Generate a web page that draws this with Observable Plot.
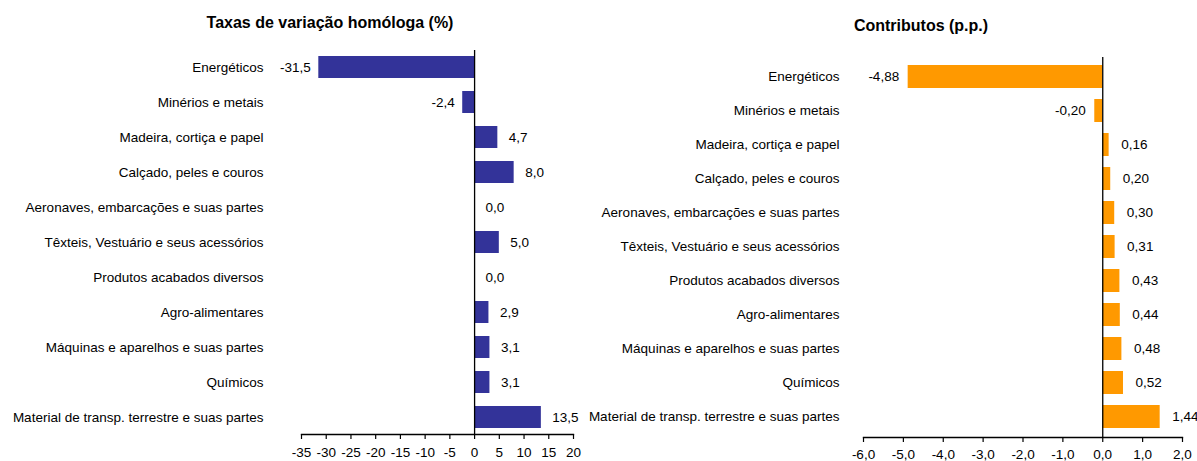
<!DOCTYPE html>
<html>
<head>
<meta charset="utf-8">
<script src="https://cdn.jsdelivr.net/npm/d3@7"></script>
<script src="https://cdn.jsdelivr.net/npm/@observablehq/plot@0.6"></script>
<style>
  html, body { margin: 0; padding: 0; background: #fff; }
  #wrap { position: relative; width: 1197px; height: 461px; overflow: hidden; font-family: "Liberation Sans", Arial, sans-serif; }
  #charts { display: flex; position: absolute; left: 0; top: 0; }
  .title { position: absolute; font-weight: bold; font-size: 16px; color: #000; transform: translateX(-50%); white-space: nowrap; line-height: 1; }
</style>
</head>
<body>
<div id="wrap">
  <div id="charts"></div>
  <div class="title" id="t1" style="left:330px; top:15px;">Taxas de variação homóloga (%)</div>
  <div class="title" id="t2" style="left:921px; top:18px;">Contributos (p.p.)</div>
</div>
<script>
const categories = [
  "Energéticos",
  "Minérios e metais",
  "Madeira, cortiça e papel",
  "Calçado, peles e couros",
  "Aeronaves, embarcações e suas partes",
  "Têxteis, Vestuário e seus acessórios",
  "Produtos acabados diversos",
  "Agro-alimentares",
  "Máquinas e aparelhos e suas partes",
  "Químicos",
  "Material de transp. terrestre e suas partes"
];
const taxas = [-31.5, -2.4, 4.7, 8.0, 0.0, 5.0, 0.0, 2.9, 3.1, 3.1, 13.5];
const contributos = [-4.88, -0.20, 0.16, 0.20, 0.30, 0.31, 0.43, 0.44, 0.48, 0.52, 1.44];
const ticksLeft = [-35, -30, -25, -20, -15, -10, -5, 0, 5, 10, 15, 20];
const ticksRight = [-6, -5, -4, -3, -2, -1, 0, 1, 2];

const leftData = categories.map((c, i) => ({cat: c, v: taxas[i]}));
const rightData = categories.map((c, i) => ({cat: c, v: contributos[i]}));

const fontStyle = {fontFamily: "'Liberation Sans', Arial, sans-serif", fontSize: "13.5px", color: "#000", background: "transparent", overflow: "visible"};

function panel({data, width, marginLeft, marginRight, marginTop, marginBottom, domain, ticks, tickFmt, valFmt, color, padInner, padOuter, yPad, xPad, posDx, negDx}) {
  return Plot.plot({
    width, height: 461,
    marginLeft, marginRight, marginTop, marginBottom,
    style: fontStyle,
    x: {domain, ticks, tickFormat: tickFmt, label: null},
    y: {domain: categories, label: null, paddingInner: padInner, paddingOuter: padOuter},
    marks: [
      Plot.barX(data, {x: "v", y: "cat", fill: color}),
      Plot.ruleX([0], {stroke: "#000", strokeWidth: 1.3}),
      Plot.frame({anchor: "bottom", stroke: "#000", strokeWidth: 1.3}),
      Plot.axisX({ticks, tickFormat: tickFmt, tickSize: 5, tickPadding: xPad, stroke: "#000", strokeWidth: 1.2, fill: "#000", label: null}),
      Plot.axisY({tickSize: 0, tickPadding: yPad, fill: "#000", label: null}),
      Plot.text(data.filter(d => d.v >= 0), {x: "v", y: "cat", text: d => valFmt(d.v), textAnchor: "start", dx: posDx, fill: "#000"}),
      Plot.text(data.filter(d => d.v < 0), {x: "v", y: "cat", text: d => valFmt(d.v), textAnchor: "end", dx: negDx, fill: "#000"})
    ]
  });
}

const left = panel({
  data: leftData, width: 598, marginLeft: 301, marginRight: 25, marginTop: 50, marginBottom: 27,
  domain: [-35, 20], ticks: ticksLeft, tickFmt: d => String(d),
  valFmt: v => v.toFixed(1).replace(".", ","), color: "#333399",
  padInner: 0.37, padOuter: 0.16, yPad: 38, xPad: 8, posDx: 11, negDx: -8
});
const right = panel({
  data: rightData, width: 599, marginLeft: 265, marginRight: 15, marginTop: 57, marginBottom: 24,
  domain: [-6, 2], ticks: ticksRight, tickFmt: d => d.toFixed(1).replace(".", ","),
  valFmt: v => v.toFixed(2).replace(".", ","), color: "#FF9900",
  padInner: 0.32, padOuter: 0.17, yPad: 24, xPad: 7, posDx: 12, negDx: -9
});
document.getElementById("charts").append(left, right);
</script>
</body>
</html>
